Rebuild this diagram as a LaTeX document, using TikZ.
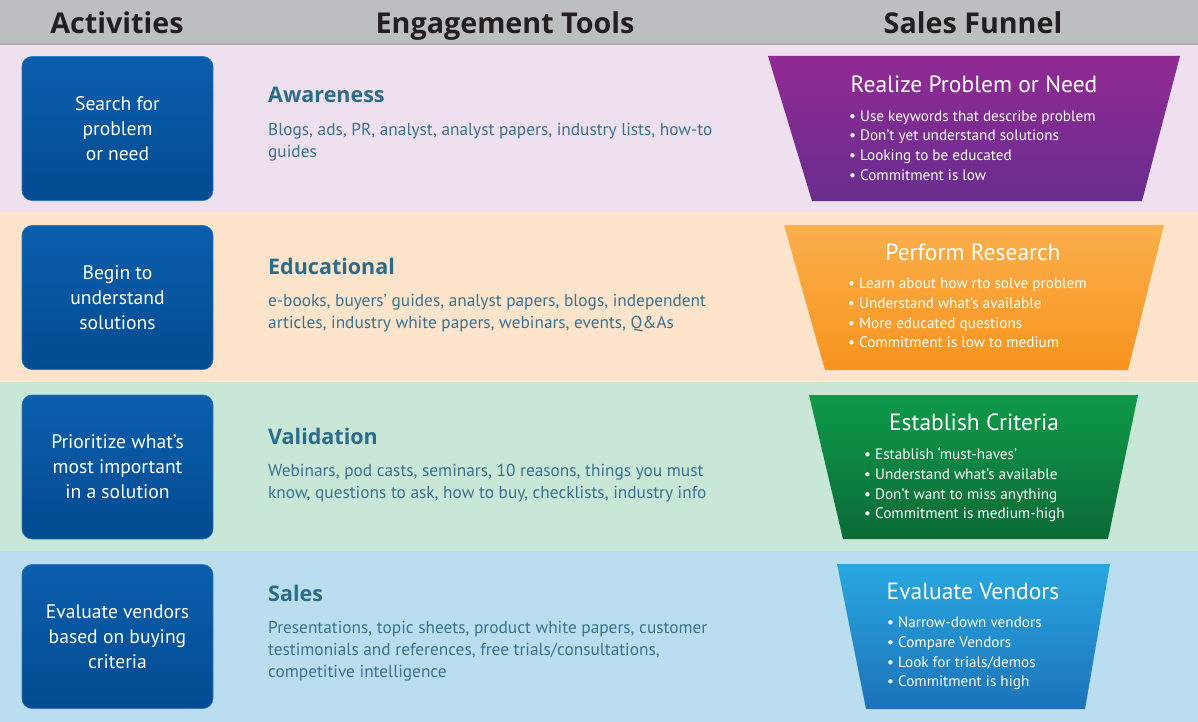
\documentclass[tikz,border=0pt]{standalone}
\usepackage{fontspec}
\setmainfont{PT Sans}
\newfontfamily\headfont{Open Sans}
\definecolor{hdrgray}{HTML}{BDBEC0}
\definecolor{hdrline}{HTML}{AEAFB2}
\definecolor{bandA}{HTML}{EEE0EF}
\definecolor{bandB}{HTML}{FEE4CA}
\definecolor{bandC}{HTML}{C9E7D7}
\definecolor{bandD}{HTML}{BADEF0}
\definecolor{boxtop}{HTML}{0A5EAC}
\definecolor{boxbot}{HTML}{024B91}
\definecolor{boxline}{HTML}{2F78C0}
\definecolor{headc}{HTML}{2C6C8B}
\definecolor{bodyc}{HTML}{3A7292}
\definecolor{titlec}{HTML}{231F20}
\definecolor{purT}{HTML}{912A93}
\definecolor{purB}{HTML}{682D8F}
\definecolor{orT}{HTML}{FBAF4C}
\definecolor{orB}{HTML}{F7941E}
\definecolor{grT}{HTML}{0E9A49}
\definecolor{grB}{HTML}{0B6A37}
\definecolor{blT}{HTML}{29A8E0}
\definecolor{blB}{HTML}{1C72B8}
\tikzset{
  colhead/.style={font=\headfont\fontsize{28.7}{30}\selectfont\bfseries, text=titlec, inner sep=0pt, anchor=base},
  actbox/.style={rounded corners=10pt, minimum width=191pt, minimum height=144pt,
     top color=boxtop, bottom color=boxbot, draw=boxline, line width=0.6pt,
     text=white, align=center, font=\fontsize{19.6}{25}\selectfont, inner sep=0pt},
  toolhead/.style={font=\headfont\fontsize{21.5}{26}\selectfont\bfseries, text=headc, anchor=west, inner sep=0pt},
  toolbody/.style={font=\fontsize{17.3}{22}\selectfont, text=bodyc, anchor=west, align=left, inner sep=0pt},
  ftitle/.style={font=\fontsize{23.5}{26}\selectfont, text=white, inner sep=0pt},
  fbody/.style={font=\fontsize{15.2}{19.6}\selectfont, text=white, anchor=west, align=left, inner sep=0pt},
}
\begin{document}
\begin{tikzpicture}[x=1pt,y=-1pt]
\useasboundingbox (0,0) rectangle (1198,722);
% bands
\fill[hdrgray] (0,0) rectangle (1198,44);
\fill[hdrline] (0,43) rectangle (1198,45);
\fill[bandA] (0,45) rectangle (1198,212);
\fill[bandB] (0,212) rectangle (1198,382);
\fill[bandC] (0,382) rectangle (1198,551);
\fill[bandD] (0,551) rectangle (1198,722);
% column headings
\node[colhead] (h1) at (117,34) {Activities};
\node[colhead] (h2) at (505,34) {Engagement Tools};
\node[colhead] (h3) at (973,34) {Sales Funnel};
% activity boxes
\node[actbox] (a1) at (117.5,128.5) {Search for\\problem\\or need};
\node[actbox] (a2) at (117.5,297.5) {Begin to\\understand\\solutions};
\node[actbox] (a3) at (117.5,467) {Prioritize what’s\\most important\\in a solution};
\node[actbox] (a4) at (117.5,636.5) {Evaluate vendors\\based on buying\\criteria};
% engagement tools
\node[toolhead] (t1) at (268,95) {Awareness};
\node[toolbody] (b1) at (268,142) {Blogs, ads, PR, analyst, analyst papers, industry lists, how-to\\guides};
\node[toolhead] (t2) at (268,266) {Educational};
\node[toolbody] (b2) at (268,313) {e-books, buyers’ guides, analyst papers, blogs, independent\\articles, industry white papers, webinars, events, Q\&As};
\node[toolhead] (t3) at (268,436) {Validation};
\node[toolbody] (b3) at (268,483) {Webinars, pod casts, seminars, 10 reasons, things you must\\know, questions to ask, how to buy, checklists, industry info};
\node[toolhead] (t4) at (268,593) {Sales};
\node[toolbody] (b4) at (268,651) {Presentations, topic sheets, product white papers, customer\\testimonials and references, free trials/consultations,\\competitive intelligence};
% funnel
\shade[top color=purT, bottom color=purB] (768,56) -- (1180,56) -- (1142,201) -- (812,201) -- cycle;
\shade[top color=orT, bottom color=orB] (784,225) -- (1164,225) -- (1128,370) -- (825,370) -- cycle;
\shade[top color=grT, bottom color=grB] (809,395) -- (1138,395) -- (1108,539) -- (843,539) -- cycle;
\shade[top color=blT, bottom color=blB] (837,564) -- (1110,564) -- (1085,709) -- (866,709) -- cycle;
\node[ftitle] (f1) at (974,84) {Realize Problem or Need};
\node[fbody] (g1) at (849,145.5) {• Use keywords that describe problem\\• Don’t yet understand solutions\\• Looking to be educated\\• Commitment is low};
\node[ftitle] (f2) at (973,252) {Perform Research};
\node[fbody] (g2) at (848,313) {• Learn about how rto solve problem\\• Understand what’s available\\• More educated questions\\• Commitment is low to medium};
\node[ftitle] (f3) at (974,422) {Establish Criteria};
\node[fbody] (g3) at (864,485) {• Establish ‘must-haves’\\• Understand what’s available\\• Don’t want to miss anything\\• Commitment is medium-high};
\node[ftitle] (f4) at (973,591) {Evaluate Vendors};
\node[fbody] (g4) at (887,653.5) {• Narrow-down vendors\\• Compare Vendors\\• Look for trials/demos\\• Commitment is high};
\end{tikzpicture}
\end{document}
